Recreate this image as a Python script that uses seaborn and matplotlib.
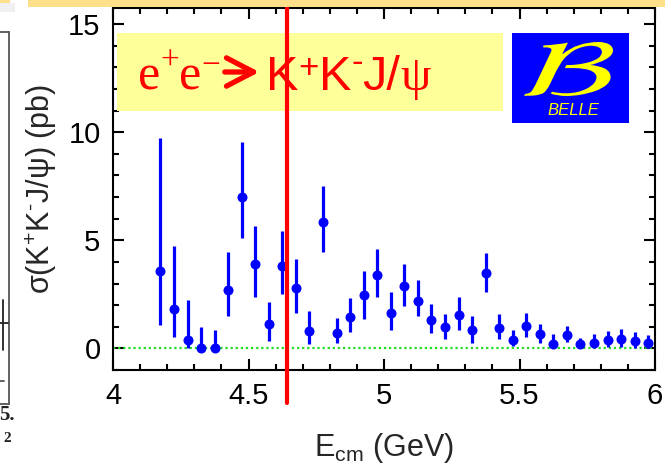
import matplotlib
matplotlib.use("Agg")
import matplotlib.pyplot as plt
import pandas as pd
import seaborn as sns
from matplotlib.patches import Rectangle, FancyArrowPatch, PathPatch
from matplotlib.lines import Line2D
from matplotlib.ticker import MultipleLocator, FixedLocator
from matplotlib.transforms import Bbox, TransformedBbox, Affine2D
from matplotlib.textpath import TextPath
from matplotlib.font_manager import FontProperties

# Centre-of-mass energies (GeV) of the measured points
energy = [4.175, 4.225, 4.275, 4.325, 4.375, 4.425, 4.475, 4.525, 4.575, 4.625,
          4.675, 4.725, 4.775, 4.825, 4.875, 4.925, 4.975, 5.025, 5.075, 5.125,
          5.175, 5.225, 5.275, 5.325, 5.375, 5.425, 5.475, 5.525, 5.575, 5.625,
          5.675, 5.725, 5.775, 5.825, 5.875, 5.925, 5.975]
# Cross section sigma(K+K-J/psi) in pb, with upper / lower ends of the error bars
xsec = [3.6, 1.8, 0.4, 0.0, 0.0, 2.7, 7.0, 3.9, 1.15, 3.8,
        2.8, 0.8, 5.85, 0.7, 1.45, 2.45, 3.4, 1.65, 2.9, 2.2,
        1.3, 1.0, 1.55, 0.85, 3.5, 0.95, 0.4, 1.05, 0.65, 0.2,
        0.6, 0.2, 0.25, 0.4, 0.45, 0.35, 0.25]
xsec_hi = [9.75, 4.75, 2.25, 1.0, 0.85, 4.45, 9.55, 5.65, 2.15, 5.45,
           4.15, 1.75, 7.5, 1.4, 2.35, 3.6, 4.6, 2.6, 3.9, 3.15,
           2.05, 1.6, 2.4, 1.5, 4.4, 1.6, 0.85, 1.65, 1.15, 0.65,
           1.05, 0.5, 0.65, 0.8, 0.9, 0.75, 0.6]
xsec_lo = [1.1, 0.55, 0.0, 0.0, 0.0, 1.5, 5.1, 2.4, 0.35, 2.5,
           1.65, 0.2, 4.45, 0.25, 0.75, 1.35, 2.4, 0.85, 1.95, 1.5,
           0.7, 0.45, 0.85, 0.25, 2.6, 0.45, 0.1, 0.55, 0.25, 0.0,
           0.3, 0.0, 0.0, 0.05, 0.05, 0.0, 0.0]

x_ticks = [4, 4.5, 5, 5.5, 6]
x_tick_labels = ["4", "4.5", "5", "5.5", "6"]
y_ticks = [0, 5, 10, 15]
y_tick_labels = ["0", "5", "10", "15"]
threshold_energy = 4.642

W, H = 665, 476
BLUE = "#0000FF"
RED = "#FF0000"
YELLOW = "#FFFF00"

sns.set_theme(style="ticks")
plt.rcParams["font.family"] = ["Liberation Sans", "DejaVu Sans"]
plt.rcParams["axes.linewidth"] = 1.5


def fx(x):
    return x / W


def fy(y):
    return 1 - y / H


fig = plt.figure(figsize=(W / 100, H / 100), dpi=100, facecolor="white")
ax = fig.add_axes([fx(113), fy(370), (655 - 113) / W, (370 - 8) / H])

df = pd.DataFrame({"energy": energy, "xsec": xsec, "hi": xsec_hi, "lo": xsec_lo})

# error bars and points
ax.vlines(df["energy"], df["lo"], df["hi"], color=BLUE, lw=2.3, zorder=4)
sns.scatterplot(data=df, x="energy", y="xsec", color=BLUE, s=52, linewidth=0,
                legend=False, ax=ax, zorder=5)

# zero level
ax.axhline(0, color="#22DD22", lw=1.6, ls=(0, (1, 1.3)), zorder=2)

# threshold marker line
ax.axvline(threshold_energy, ymin=-0.09, ymax=1.01, color=RED, lw=3,
           clip_on=False, zorder=10)

ax.set_xlim(4, 6)
ax.set_ylim(-1, 15.75)
ax.xaxis.set_major_locator(FixedLocator(x_ticks))
ax.set_xticklabels(x_tick_labels)
ax.xaxis.set_minor_locator(MultipleLocator(0.1))
ax.yaxis.set_major_locator(FixedLocator(y_ticks))
ax.set_yticklabels(y_tick_labels)
ax.yaxis.set_minor_locator(MultipleLocator(1))
ax.tick_params(which="both", direction="in", top=True, right=True,
               colors="black", width=1.5, labelsize=21, pad=9)
ax.tick_params(which="major", length=8)
ax.tick_params(which="minor", length=4)
for s in ax.spines.values():
    s.set_color("black")
    s.set_linewidth(1.5)

ax.set_xlabel(r"E$_{\mathregular{cm}}$ (GeV)", fontsize=22, va="center")
ax.xaxis.set_label_coords(0.5, (370 - 448) / 362)
ax.set_ylabel(r"σ(K$^{\mathregular{+}}$K$^{\mathregular{‐}}$J/ψ) (pb)",
              fontsize=22, va="center")
ax.yaxis.set_label_coords((41 - 113) / 542, 0.5)

# process label box
ax.add_patch(Rectangle((fx(117), fy(111)), (503 - 117) / W, (111 - 33) / H,
                       transform=fig.transFigure, facecolor="#FFFF99",
                       edgecolor="none", zorder=3, clip_on=False))

serif = dict(family=["Liberation Serif", "DejaVu Serif"], color=RED)
sans = dict(family=["Liberation Sans", "DejaVu Sans"], color=RED)
renderer = fig.canvas.get_renderer()


def text_chain(x0, base, pieces):
    x = x0
    for s, kw, size, dy in pieces:
        t = fig.text(fx(x), fy(base + dy), s, fontsize=size, ha="left",
                     va="baseline", zorder=6, **kw)
        x = t.get_window_extent(renderer).x1
    return x


text_chain(138, 90, [("e", serif, 36, 0), ("+", serif, 24, -20),
                     ("e", serif, 36, 0), ("−", serif, 24, -16)])
fig.add_artist(FancyArrowPatch((fx(222), fy(72)), (fx(262), fy(72)),
                               transform=fig.transFigure,
                               arrowstyle="->,head_length=0.65,head_width=0.34",
                               mutation_scale=30, lw=3.8, color=RED, zorder=6))
text_chain(266, 90, [("K", sans, 35, 0), ("+", sans, 25, -12),
                     ("K", sans, 35, 0), ("-", sans, 25, -18),
                     ("J/", sans, 35, 0), ("ψ", serif, 35, 0)])

# experiment logo: blue plate, wide script B and name
fig.add_artist(Rectangle((fx(512), fy(123)), (629 - 512) / W, (123 - 33) / H,
                         transform=fig.transFigure, facecolor=BLUE,
                         edgecolor="none", zorder=5))
glyph = TextPath((0, 0), r"$\mathcal{B}$", size=1,
                 prop=FontProperties(math_fontfamily="stix"))
gb = glyph.get_extents()
glyph_tr = (Affine2D().translate(-gb.x0, -gb.y0)
            .scale((613 - 524) / gb.width / W, (96 - 42) / gb.height / H)
            .translate(fx(524), fy(96)) + fig.transFigure)
fig.add_artist(PathPatch(glyph, transform=glyph_tr, facecolor=YELLOW,
                         edgecolor="none", zorder=6))
fig.text(fx(573), fy(110), "BELLE", fontsize=12, style="italic",
         color=YELLOW, ha="center", va="center", zorder=6)

# header band
fig.add_artist(Rectangle((fx(28), fy(7)), (W - 28) / W, 7 / H,
                         transform=fig.transFigure, facecolor="#FFE08A",
                         edgecolor="none", zorder=8))
fig.add_artist(Rectangle((0, fy(3)), fx(10), 3 / H, transform=fig.transFigure,
                         facecolor="#FFE08A", edgecolor="none", zorder=8))
fig.add_artist(Rectangle((0, fy(12)), fx(15), 9 / H, transform=fig.transFigure,
                         facecolor="#F0F0F0", edgecolor="none", zorder=8))

# neighbouring panel edge
frame = [([0, 9], [32, 32]), ([9, 9], [32, 404]), ([0, 9], [404, 404]),
         ([0, 4], [381, 381])]
marks = [([3, 3], [300, 350]), ([0, 8], [323, 323])]
for segs, col in [(frame, "#555555"), (marks, "#222222")]:
    for xs, ys in segs:
        fig.add_artist(Line2D([fx(v) for v in xs], [fy(v) for v in ys],
                              transform=fig.transFigure, color=col, lw=1.3))
clip = TransformedBbox(Bbox([[0, 0], [fx(14), 1]]), fig.transFigure)
for s, x, y, size in [("5.4", -1, 415, 15), ("2", 3, 438, 11)]:
    t = fig.text(fx(x), fy(y), s, fontsize=size, weight="bold",
                 family=["Liberation Serif", "DejaVu Serif"],
                 ha="left", va="center", color="#222222")
    t.set_clip_box(clip)
    t.set_clip_on(True)

fig.savefig("out.png", dpi=100)
